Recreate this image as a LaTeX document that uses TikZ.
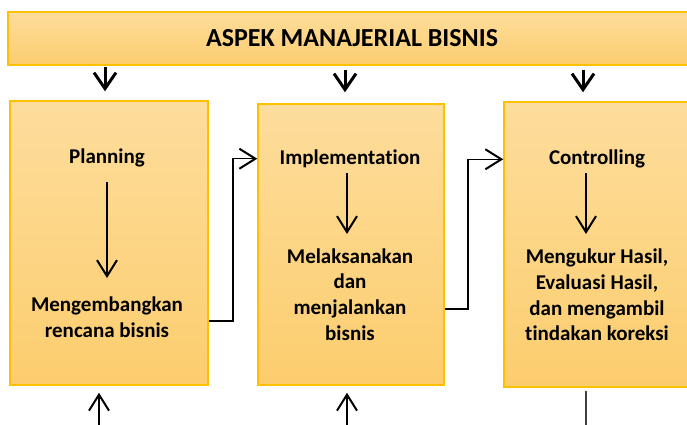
\documentclass[tikz,border=0pt]{standalone}
\usepackage{fontspec}
\setmainfont{Carlito}[RawFeature={-liga}]
\usetikzlibrary{arrows.meta}
\definecolor{boxtop}{RGB}{253,221,156}
\definecolor{boxbot}{RGB}{252,205,110}
\definecolor{boxline}{RGB}{255,192,0}
\definecolor{stemgray}{RGB}{64,64,64}

\begin{document}
\begin{tikzpicture}[x=1pt,y=1pt,
  panel/.style={draw=boxline, line width=1.5pt, top color=boxtop, bottom color=boxbot, inner sep=0pt},
  txt/.style={font=\fontsize{21}{25.6}\selectfont\bfseries, align=center, inner sep=0pt, anchor=base},
  headarrow/.style={line width=3pt, -{Straight Barb[length=16pt, width=22pt]}},
  inarrow/.style={line width=2pt, -{Straight Barb[length=16pt, width=20pt]}},
  conn/.style={line width=1.5pt, -{Straight Barb[length=16pt, width=20pt, line width=2pt]}},
]
\useasboundingbox (0,0) rectangle (687,-424);
\clip (0,0) rectangle (687,-424);

% title bar and the three stages
\node[panel, minimum width=688, minimum height=53,
      font=\fontsize{26}{30}\selectfont\bfseries] (top) at (352,-38.5) {ASPEK MANAJERIAL BISNIS};
\node[panel, minimum width=198, minimum height=284] (plan) at (109,-243) {};
\node[panel, minimum width=186, minimum height=281] (impl) at (351,-244.5) {};
\node[panel, minimum width=186, minimum height=285] (ctrl) at (597,-244.5) {};

% texts inside the stages (multi-line texts sit on the baseline of their last line)
\node[txt] (planh) at (107,-163.3) {Planning};
\node[txt] (planb) at (107,-337.3) {Mengembangkan\\rencana bisnis};
\node[txt] (implh) at (350,-164) {Implementation};
\node[txt] (implb) at (350,-340) {Melaksanakan\\dan\\menjalankan\\bisnis};
\node[txt] (ctrlh) at (597,-164) {Controlling};
\node[txt] (ctrlb) at (597,-340.7) {Mengukur Hasil,\\Evaluasi Hasil,\\dan mengambil\\tindakan koreksi};

% x positions of the vertical arrows
\coordinate (c1) at (105,0);
\coordinate (c2) at (345,0);
\coordinate (c3) at (583,0);
\coordinate (u1) at (99,-432);
\coordinate (u2) at (347,-432);
\coordinate (u3) at (586,-432);

% from the title bar down to each stage
\draw[headarrow] ([yshift=-1]top.south -| c1) -- ([yshift=9]plan.north -| c1);
\draw[headarrow] ([yshift=-4]top.south -| c2) -- ([yshift=11]impl.north -| c2);
\draw[headarrow] ([yshift=-4]top.south -| c3) -- ([yshift=9]ctrl.north -| c3);

% inside each stage
\draw[inarrow] ([yshift=-19]planh.base) -- ([yshift=59.3]planb.base);
\draw[inarrow] ([xshift=-3,yshift=-9]implh.base) -- ([xshift=-3,yshift=106]implb.base);
\draw[inarrow] ([xshift=-11,yshift=-9]ctrlh.base) -- ([xshift=-11,yshift=106.7]ctrlb.base);

% stage to stage
\draw[conn] ([yshift=-78]plan.east) -- ++(24,0) |- ([yshift=-1]impl.west |- planh.center);
\draw[conn] ([yshift=-64.5]impl.east) -- ++(23,0) |- ([yshift=-1]ctrl.west |- implh.center);

% lines leaving at the bottom
\draw[inarrow] (u1) -- ([yshift=-7]plan.south -| u1);
\draw[inarrow] (u2) -- ([yshift=-7]impl.south -| u2);
\draw[line width=2pt, stemgray] ([yshift=-3]ctrl.south -| u3) -- (u3);
\end{tikzpicture}
\end{document}
